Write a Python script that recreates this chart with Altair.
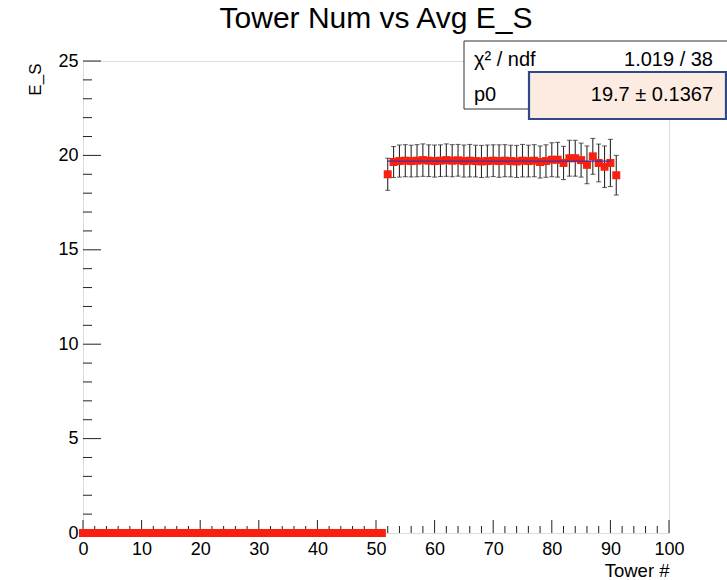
import altair as alt
import pandas as pd

# ---- data -------------------------------------------------------------
# towers with no deposit
empty_towers = list(range(0, 52))
empty_e_s = [0.0] * 52

# towers with signal: average E_S and its uncertainty
towers = list(range(52, 92))
e_s = [19.00, 19.65, 19.70, 19.72, 19.70, 19.72, 19.75, 19.72, 19.70, 19.72,
       19.75, 19.72, 19.74, 19.70, 19.72, 19.70, 19.68, 19.70, 19.72, 19.70,
       19.72, 19.70, 19.68, 19.72, 19.70, 19.72, 19.65, 19.70, 19.77, 19.77,
       19.60, 19.85, 19.85, 19.75, 19.50, 19.95, 19.60, 19.40, 19.60, 18.95]
e_s_err = [0.85, 0.82, 0.85, 0.85, 0.84, 0.85, 0.86, 0.84, 0.85, 0.84,
           0.86, 0.85, 0.84, 0.85, 0.86, 0.84, 0.85, 0.85, 0.84, 0.86,
           0.85, 0.84, 0.85, 0.86, 0.84, 0.85, 0.85, 0.86, 0.90, 0.92,
           0.88, 0.95, 0.95, 0.90, 1.00, 0.95, 1.00, 1.10, 1.25, 1.05]

# constant fit result
fit_lo, fit_hi = 52, 90
p0 = 19.7
p0_err = 0.1367
chi2 = 1.019
ndf = 38

# axis ticks
x_major = [0, 10, 20, 30, 40, 50, 60, 70, 80, 90, 100]
x_minor = [t for t in range(0, 101, 2) if t % 10 != 0]
y_major = [0, 5, 10, 15, 20, 25]
y_minor = [t for t in range(0, 26) if t % 5 != 0]

# ---- layout -----------------------------------------------------------
W, H = 586, 472
FONT = "Liberation Sans"
RED = "#f8200f"
INK = "#222222"

xscale = alt.Scale(domain=[0, 100], nice=False, zero=False)
yscale = alt.Scale(domain=[0, 25], nice=False, zero=False)

x_axis = alt.Axis(values=x_major, ticks=False, domain=False, grid=False,
                  labelFontSize=18, labelPadding=7, labelColor="#000",
                  labelFont=FONT, labelFlush=False,
                  title="Tower #", titleFont=FONT, titleFontSize=18.5,
                  titleFontWeight="normal", titleColor="#000",
                  titleX=W, titleY=43, titleAlign="right",
                  titleBaseline="alphabetic", titleAnchor="end")
y_axis = alt.Axis(values=y_major, ticks=False, domain=False, grid=False,
                  labelFontSize=18, labelPadding=5, labelColor="#000",
                  labelFont=FONT, labelFlush=False,
                  title="E_S", titleFont=FONT, titleFontSize=17,
                  titleFontWeight="normal", titleColor="#000",
                  titleAngle=270, titleX=-48, titleY=2, titleAlign="right",
                  titleBaseline="middle", titleAnchor="end")

empty_df = pd.DataFrame({"tower": empty_towers, "e_s": empty_e_s})
sig_df = pd.DataFrame({"tower": towers, "e_s": e_s, "err": e_s_err})
sig_df["lo"] = sig_df["e_s"] - sig_df["err"]
sig_df["hi"] = sig_df["e_s"] + sig_df["err"]
fit_df = pd.DataFrame({"x": [fit_lo], "x2": [fit_hi], "p0": [p0]})

# frame ticks pointing into the plot
xmaj = alt.Chart(pd.DataFrame({"t": x_major})).mark_rule(color=INK, strokeWidth=1).encode(
    x=alt.X("t:Q", scale=xscale, axis=x_axis), y=alt.value(H), y2=alt.value(H - 13))
xmin = alt.Chart(pd.DataFrame({"t": x_minor})).mark_rule(color=INK, strokeWidth=1).encode(
    x=alt.X("t:Q", scale=xscale), y=alt.value(H), y2=alt.value(H - 7))
ymaj = alt.Chart(pd.DataFrame({"t": y_major})).mark_rule(color=INK, strokeWidth=1).encode(
    y=alt.Y("t:Q", scale=yscale, axis=y_axis), x=alt.value(0), x2=alt.value(18))
ymin = alt.Chart(pd.DataFrame({"t": y_minor})).mark_rule(color=INK, strokeWidth=1).encode(
    y=alt.Y("t:Q", scale=yscale), x=alt.value(0), x2=alt.value(9))

# error bars with caps
bars = alt.Chart(sig_df).mark_rule(color="#2a2a2a", strokeWidth=1.1).encode(
    x=alt.X("tower:Q", scale=xscale), y=alt.Y("lo:Q", scale=yscale), y2="hi:Q")
cap_lo = alt.Chart(sig_df).mark_tick(orient="horizontal", size=5, thickness=1.1,
                                     color="#2a2a2a").encode(
    x=alt.X("tower:Q", scale=xscale), y=alt.Y("lo:Q", scale=yscale))
cap_hi = alt.Chart(sig_df).mark_tick(orient="horizontal", size=5, thickness=1.1,
                                     color="#2a2a2a").encode(
    x=alt.X("tower:Q", scale=xscale), y=alt.Y("hi:Q", scale=yscale))

# markers
pts_empty = alt.Chart(empty_df).mark_square(size=64, color=RED, opacity=1).encode(
    x=alt.X("tower:Q", scale=xscale), y=alt.Y("e_s:Q", scale=yscale))
pts_sig = alt.Chart(sig_df).mark_square(size=64, color=RED, opacity=1).encode(
    x=alt.X("tower:Q", scale=xscale), y=alt.Y("e_s:Q", scale=yscale))

# fitted constant
fit_line = alt.Chart(fit_df).mark_rule(color="#4a2a9e", strokeWidth=1.3).encode(
    x=alt.X("x:Q", scale=xscale), x2="x2:Q", y=alt.Y("p0:Q", scale=yscale))

# statistics box
one = pd.DataFrame({"k": [0]})
stat_box = alt.Chart(one).mark_rect(fill="white", stroke="#333333", strokeWidth=1).encode(
    x=alt.value(381), x2=alt.value(650), y=alt.value(-20), y2=alt.value(48))
hi_box = alt.Chart(one).mark_rect(fill="#fcebe0", stroke="#2d4a87", strokeWidth=2.2).encode(
    x=alt.value(446), x2=alt.value(643), y=alt.value(11), y2=alt.value(58))


def label(txt, x, y, align):
    return alt.Chart(one).mark_text(text=txt, font=FONT, fontSize=20, color="#000",
                                    align=align, baseline="alphabetic").encode(
        x=alt.value(x), y=alt.value(y))


stat_text = (label("χ² / ndf", 391, 5, "left")
             + label(f"{chi2:.3f} / {ndf}", 630, 5, "right")
             + label("p0", 391, 40, "left")
             + label(f"{p0} ± {p0_err}", 630, 40, "right"))

title = alt.Chart(one).mark_text(text="Tower Num vs Avg E_S", font=FONT, fontSize=30,
                                 color="#000", align="center",
                                 baseline="alphabetic").encode(
    x=alt.value(W / 2), y=alt.value(-33))

chart = alt.layer(
    xmaj, xmin, ymaj, ymin, bars, cap_lo, cap_hi, pts_empty, pts_sig, fit_line,
    stat_box, hi_box, stat_text, title
).properties(
    width=W, height=H,
    autosize=alt.AutoSizeParams(type="none"),
    padding={"left": 83, "top": 61, "right": 58, "bottom": 47},
).configure_view(
    stroke=INK, strokeWidth=1
).configure(background="white")

chart.save("out.html", embed_options={"renderer": "svg", "actions": False})
